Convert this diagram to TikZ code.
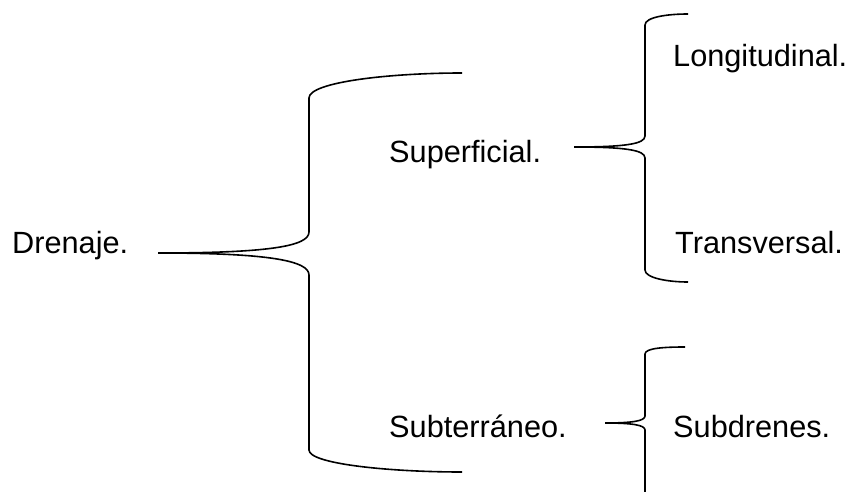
\documentclass[tikz,border=0pt]{standalone}
\usepackage{fontspec}
\setmainfont{Liberation Sans}
\begin{document}
\begin{tikzpicture}[x=1pt,y=-1pt,
  label/.style={anchor=base west,inner sep=0pt,font=\fontsize{30.7}{36}\selectfont},
  brace/.style={line width=1.6pt,line join=round}]
\useasboundingbox (0,0) rectangle (854,492);

% labels
\node[label] (drenaje) at (12,253) {Drenaje.};
\node[label] (superficial) at (389,162) {Superficial.};
\node[label] (subterraneo) at (389,437) {Subterráneo.};
\node[label] (longitudinal) at (673,67) {Longitudinal.};
\node[label] (transversal) at (675,253) {Transversal.};
\node[label] (subdrenes) at (673,437) {Subdrenes.};

% brace points
\coordinate (t1) at (158,253);
\coordinate (a1) at (462,73);
\coordinate (b1) at (462,472);
\coordinate (t2) at (574,147);
\coordinate (a2) at (688,14);
\coordinate (b2) at (688,282);
\coordinate (t3) at (605,423);
\coordinate (a3) at (685,347);
\coordinate (b3) at (645,492);

% main brace
\draw[brace] (t1) .. controls (270,253) and (309,246) .. (309,232)
  -- (309,98) .. controls (309,82) and (390,73) .. (a1);
\draw[brace] (t1) .. controls (270,253) and (309,261) .. (309,275)
  -- (309,450) .. controls (309,464) and (390,472) .. (b1);

% superficial brace
\draw[brace] (t2) .. controls (625,147) and (645,144) .. (645,136)
  -- (645,25) .. controls (645,17) and (668,14) .. (a2);
\draw[brace] (t2) .. controls (625,147) and (645,150) .. (645,158)
  -- (645,270) .. controls (645,278) and (668,282) .. (b2);

% subterraneo brace
\draw[brace] (t3) .. controls (632,423) and (645,421) .. (645,416)
  -- (645,354) .. controls (645,348) and (665,347) .. (a3);
\draw[brace] (t3) .. controls (632,423) and (645,425) .. (645,430)
  -- (b3);
\end{tikzpicture}
\end{document}
